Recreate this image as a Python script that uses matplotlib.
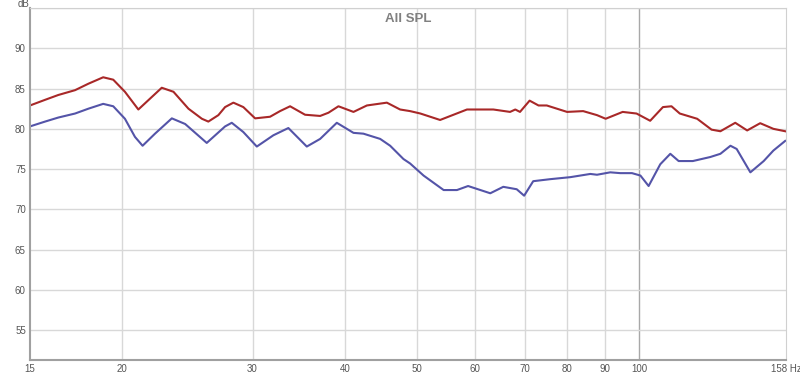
import matplotlib
matplotlib.use('Agg')
import matplotlib.pyplot as plt

plt.rcParams['font.family'] = ['Liberation Sans', 'DejaVu Sans']

# frequency response (Hz, dB)
red_freq = [15.0, 15.72, 16.38, 17.26, 17.99, 18.84, 19.44, 20.16, 21.02, 21.8,
            22.61, 23.45, 24.57, 25.62, 26.14, 26.97, 27.54, 28.26, 29.15, 30.24,
            31.68, 32.68, 33.72, 35.33, 37.03, 38.0, 39.2, 41.08, 42.83, 45.58,
            47.5, 49.0, 50.6, 53.8, 58.5, 63.5, 66.9, 68.0, 69.0, 71.1,
            73.1, 75.0, 79.9, 84.0, 87.7, 90.1, 95.0, 99.2, 103.5, 107.7,
            110.6, 113.5, 119.8, 125.3, 128.8, 134.9, 140.0, 145.8, 151.9, 157.6]
red_db = [82.9, 83.6, 84.2, 84.8, 85.6, 86.4, 86.1, 84.6, 82.4, 83.75,
          85.1, 84.6, 82.5, 81.25, 80.9, 81.7, 82.7, 83.25, 82.7, 81.3,
          81.5, 82.2, 82.8, 81.75, 81.6, 82.0, 82.8, 82.1, 82.9, 83.25,
          82.4, 82.2, 81.9, 81.1, 82.4, 82.4, 82.1, 82.4, 82.1, 83.5,
          82.9, 82.9, 82.1, 82.2, 81.7, 81.25, 82.1, 81.9, 81.0, 82.7,
          82.8, 81.9, 81.25, 79.9, 79.7, 80.75, 79.8, 80.7, 80.0, 79.7]

blue_freq = [15.0, 15.72, 16.38, 17.26, 17.99, 18.84, 19.44, 20.16, 20.8, 21.3,
             22.14, 23.33, 24.32, 26.01, 27.54, 28.12, 29.15, 30.4, 32.01, 33.54,
             35.52, 37.03, 39.0, 41.08, 42.37, 44.64, 46.05, 48.0, 49.0, 51.1,
             54.4, 56.7, 58.7, 61.0, 62.9, 65.5, 68.3, 69.9, 71.9, 75.8,
             80.7, 85.9, 87.7, 91.4, 94.3, 97.8, 100.4, 103.0, 106.8, 110.2,
             113.1, 118.2, 124.8, 128.8, 132.9, 135.5, 141.4, 147.4, 151.9, 157.6]
blue_db = [80.3, 80.9, 81.4, 81.9, 82.5, 83.1, 82.8, 81.25, 79.0, 77.9,
           79.4, 81.3, 80.6, 78.25, 80.3, 80.75, 79.6, 77.8, 79.2, 80.1,
           77.8, 78.75, 80.75, 79.5, 79.4, 78.75, 77.9, 76.25, 75.7, 74.2,
           72.4, 72.4, 72.9, 72.4, 72.0, 72.8, 72.5, 71.7, 73.5, 73.75,
           74.0, 74.4, 74.3, 74.6, 74.5, 74.5, 74.2, 72.9, 75.6, 76.9,
           76.0, 76.0, 76.5, 76.9, 77.9, 77.5, 74.6, 76.0, 77.3, 78.5]

x_ticks = [15, 20, 30, 40, 50, 60, 70, 80, 90, 100, 158]
x_labels = ['15', '20', '30', '40', '50', '60', '70', '80', '90', '100', '158 Hz']
y_ticks = [55, 60, 65, 70, 75, 80, 85, 90]

fig = plt.figure(figsize=(8, 3.74), dpi=100)
ax = fig.add_axes([0.0375, 0.0374, 0.945, 0.9412])

ax.plot(red_freq, red_db, color='#a82828', lw=1.5)
ax.plot(blue_freq, blue_db, color='#5454a8', lw=1.5)

ax.set_xscale('log')
ax.set_xlim(15, 158)
ax.set_ylim(51.3, 95.0)

ax.set_xticks(x_ticks)
ax.set_xticklabels(x_labels)
ax.minorticks_off()
ax.set_yticks(y_ticks)
ax.tick_params(length=0, labelsize=7, colors='#555555', pad=3)

for f in x_ticks[1:-1]:
    c = '#a8a8a8' if f == 100 else '#d8d8d8'
    ax.axvline(f, color=c, lw=1, zorder=0)
for d in y_ticks + [95]:
    ax.axhline(d, color='#d8d8d8', lw=1, zorder=0)

for s in ['top', 'right']:
    ax.spines[s].set_color('#d0d0d0')
for s in ['left', 'bottom']:
    ax.spines[s].set_color('#a0a0a0')
    ax.spines[s].set_linewidth(1.5)

ax.text(0.5, 0.985, 'All SPL', transform=ax.transAxes, ha='center', va='top',
        fontsize=9.5, fontweight='bold', color='#808080')
fig.text(18 / 800, 1 - 4 / 374, 'dB', ha='left', va='center', fontsize=7, color='#555555')

fig.savefig('out.png', dpi=100)
